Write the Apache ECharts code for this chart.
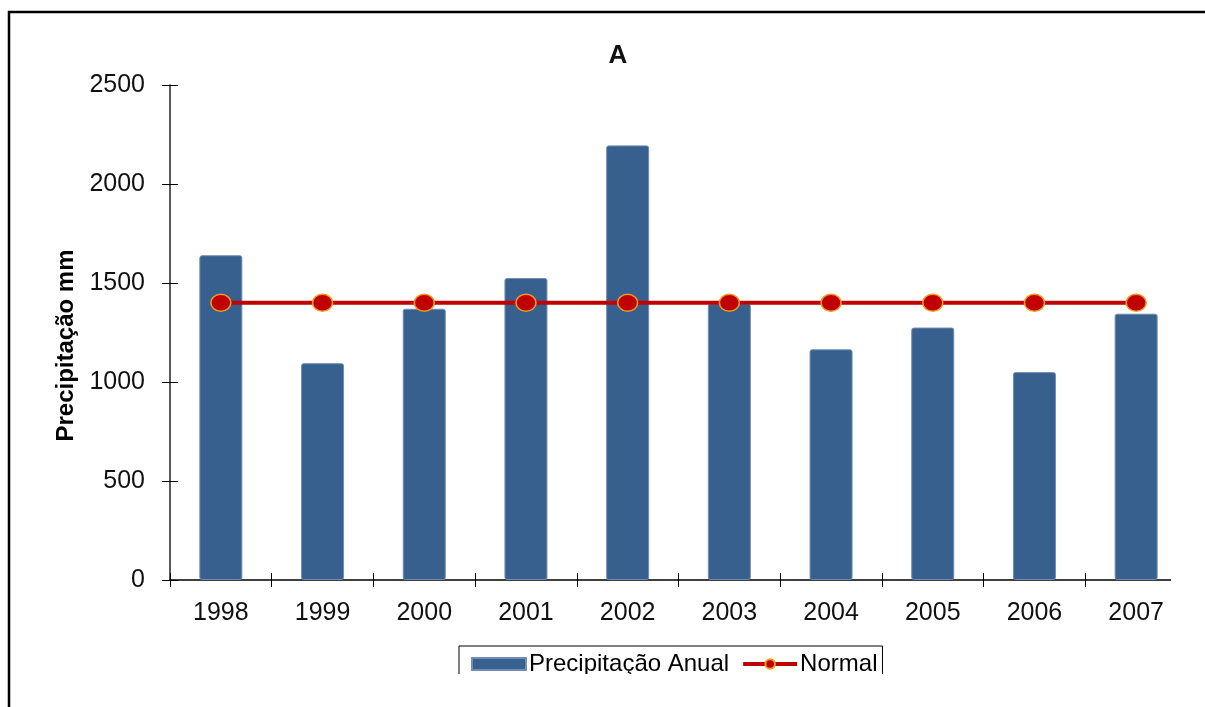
<!DOCTYPE html>
<html lang="pt">
<head>
    <meta charset="UTF-8">
    <title>A</title>
    <script src="https://cdn.jsdelivr.net/npm/echarts@6/dist/echarts.min.js"></script>
    <style>
        html, body {margin:0; padding:0; background:#fff}
    </style>
</head>
<body>
<div id="main" style="width:1205px; height:707px;"></div>
<script>
    // anos e valores
    var anos = ['1998', '1999', '2000', '2001', '2002', '2003', '2004', '2005', '2006', '2007'];
    var precipitacao = [1640, 1095, 1370, 1525, 2195, 1395, 1165, 1275, 1050, 1345];
    var normal = [1400, 1400, 1400, 1400, 1400, 1400, 1400, 1400, 1400, 1400];
    var yTicks = [0, 500, 1000, 1500, 2000, 2500];

    var fonte = '"Liberation Sans", Arial, sans-serif';
    var chart = echarts.init(document.getElementById('main'));

    chart.setOption({
        animation: false,
        title: {
            text: 'A',
            left: 613,
            top: 38,
            textAlign: 'center',
            textStyle: {fontFamily: fonte, fontSize: 26, fontWeight: 'bold', color: '#111'}
        },
        legend: {
            left: 459,
            top: 646,
            orient: 'horizontal',
            borderColor: '#000',
            borderWidth: 1,
            padding: [6, 5, 14, 12],
            itemGap: 12,
            itemWidth: 54,
            itemHeight: 12,
            textStyle: {fontFamily: fonte, fontSize: 24, color: '#000', padding: [0, 0, 0, -2]},
            data: [
                {name: 'Precipitação Anual', icon: 'rect'},
                {name: 'Normal', lineStyle: {width: 4, color: '#C00000'}}
            ]
        },
        grid: {left: 170, right: 18, top: 85, bottom: 127},
        xAxis: [{
            type: 'category',
            data: anos,
            axisLine: {lineStyle: {color: '#000', width: 1.5}},
            axisTick: {show: true, length: 7, lineStyle: {color: '#000'}},
            axisLabel: {fontFamily: fonte, fontSize: 25, color: '#111', margin: 21}
        }, {
            type: 'category',
            data: anos,
            position: 'bottom',
            axisLine: {show: false},
            axisTick: {show: true, inside: true, length: 7, lineStyle: {color: '#000'}},
            axisLabel: {show: false}
        }],
        yAxis: [{
            type: 'value',
            min: yTicks[0],
            max: yTicks[yTicks.length - 1],
            interval: 500,
            name: 'Precipitação mm',
            nameLocation: 'middle',
            nameGap: 86,
            nameRotate: 90,
            nameTextStyle: {fontFamily: fonte, fontSize: 24, fontWeight: 'bold', color: '#000', padding: [0, 26, 0, 0]},
            splitLine: {show: false},
            axisLine: {show: true, lineStyle: {color: '#222', width: 1.5}},
            axisTick: {show: true, length: 8, lineStyle: {color: '#000'}},
            axisLabel: {
                fontFamily: fonte, fontSize: 25, color: '#111', margin: 25,
                formatter: function (v) { return String(v); }
            }
        }, {
            type: 'value',
            position: 'left',
            min: yTicks[0],
            max: yTicks[yTicks.length - 1],
            interval: 500,
            splitLine: {show: false},
            axisLine: {show: false},
            axisTick: {show: true, inside: true, length: 8, lineStyle: {color: '#000'}},
            axisLabel: {show: false}
        }],
        graphic: [
            {   // moldura
                type: 'rect',
                shape: {x: 9, y: 12, width: 1400, height: 900},
                style: {fill: 'none', stroke: '#000', lineWidth: 2.5},
                z: 100
            },
            {   // recorte a direita
                type: 'rect',
                shape: {x: 1171, y: 20, width: 40, height: 700},
                style: {fill: '#fff'},
                z: 90
            },
            {   // recorte em baixo
                type: 'rect',
                shape: {x: 14, y: 674, width: 1200, height: 40},
                style: {fill: '#fff'},
                z: 90
            }
        ],
        series: [{
            name: 'Precipitação Anual',
            type: 'bar',
            barWidth: 43,
            data: precipitacao,
            itemStyle: {color: '#37608F', borderColor: '#6F8DB5', borderWidth: 1, borderRadius: 2}
        }, {
            name: 'Normal',
            type: 'line',
            data: normal,
            symbol: 'circle',
            symbolSize: [20, 17],
            z: 5,
            lineStyle: {color: '#C00000', width: 4},
            itemStyle: {color: '#C00000', borderColor: '#F29A1E', borderWidth: 1.5}
        }]
    });
</script>
</body>
</html>
